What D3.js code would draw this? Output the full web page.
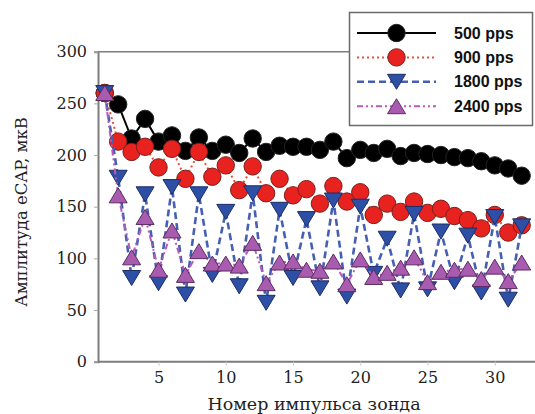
<!DOCTYPE html>
<html>
<head>
<meta charset="utf-8">
<script src="https://cdn.jsdelivr.net/npm/d3@7"></script>
<style>
  body { margin: 0; background: #fff; }
  svg { display: block; }
</style>
</head>
<body>
<svg id="chart"></svg>
<script>
// Pulse numbers 1..32
const pulses = d3.range(1, 33);

// eCAP amplitude, uV
const pps500 = [260, 249, 216, 235, 213, 219, 204, 217, 204, 210, 202, 216, 203, 209, 208, 208,
  205, 213, 197, 205, 202, 206, 199, 202, 201, 200, 198, 197, 194, 190, 187, 180];
const pps900 = [260, 213, 203, 208, 188, 206, 177, 203, 179, 190, 166, 189, 163, 177, 161, 167,
  153, 170, 155, 164, 142, 153, 145, 155, 144, 148, 141, 137, 129, 142, 125, 132];
const pps1800 = [260, 178, 81, 162, 76, 169, 65, 162, 84, 145, 73, 163, 57, 147, 81, 138,
  71, 156, 63, 150, 85, 119, 69, 143, 70, 126, 77, 122, 67, 140, 60, 131];
const pps2400 = [260, 161, 101, 140, 89, 127, 84, 107, 95, 95, 93, 115, 76, 96, 97, 89,
  88, 97, 75, 99, 82, 86, 91, 101, 77, 87, 89, 90, 80, 92, 78, 96];

const seriesNames = ["500 pps", "900 pps", "1800 pps", "2400 pps"];
const xTicks = [5, 10, 15, 20, 25, 30];
const yTicks = [0, 50, 100, 150, 200, 250, 300];

const width = 535, height = 414;
const svg = d3.select("#chart").attr("width", width).attr("height", height);

const x = d3.scaleLinear().domain([0.5, 32.5]).range([98, 528.4]);
const y = d3.scaleLinear().domain([0, 300]).range([361.7, 51.7]);

const axisColor = "#7d7d7d";
const serif = "'DejaVu Serif', serif";

// styles for each series
const styles = [
  { values: pps500, line: "#000", dash: null, lw: 2, marker: "circle", fill: "#000", stroke: "#222" },
  { values: pps900, line: "#e8503a", dash: "2,3", lw: 2, marker: "circle", fill: "#e8221f", stroke: "#7a1f1a" },
  { values: pps1800, line: "#4560b2", dash: "7,4", lw: 2.6, marker: "down", fill: "#2d4fa6", stroke: "#1d2d66" },
  { values: pps2400, line: "#b85ab9", dash: "6,3,2,3,2,3", lw: 2, marker: "up", fill: "#a95bb0", stroke: "#5b2c60" }
];

const triUp = "M0,-7.5L9,7.5L-9,7.5Z";
const triDown = "M-9,-7.5L9,-7.5L0,7.5Z";

function drawMarker(g, s, cx, cy) {
  if (s.marker === "circle") {
    g.append("circle").attr("cx", cx).attr("cy", cy).attr("r", 8.7)
      .attr("fill", s.fill).attr("stroke", s.stroke).attr("stroke-width", 1);
  } else {
    g.append("path").attr("d", s.marker === "up" ? triUp : triDown)
      .attr("transform", "translate(" + cx + "," + cy + ")")
      .attr("fill", s.fill).attr("stroke", s.stroke).attr("stroke-width", 1);
  }
}

// top border of plot area
svg.append("line")
  .attr("x1", x(0.5)).attr("x2", 350)
  .attr("y1", y(300)).attr("y2", y(300))
  .attr("stroke", axisColor).attr("stroke-width", 1.5);

// y axis
const yAxis = svg.append("g")
  .attr("transform", "translate(" + x(0.5) + ",0)")
  .call(d3.axisLeft(y).tickValues(yTicks).tickSize(4).tickPadding(7));
yAxis.select(".domain").attr("stroke", axisColor).attr("stroke-width", 2);
yAxis.selectAll(".tick line").attr("stroke", "#aaa");
yAxis.selectAll("text").attr("font-family", serif).attr("font-size", 16).attr("fill", "#222");

// x axis
const xAxis = svg.append("g")
  .attr("transform", "translate(0," + y(0) + ")")
  .call(d3.axisBottom(x).tickValues(xTicks).tickSize(4).tickPadding(6));
xAxis.select(".domain").attr("d", "M" + x(0.5) + ",0H" + width)
  .attr("stroke", axisColor).attr("stroke-width", 2);
xAxis.selectAll(".tick line").attr("stroke", "#ccc");
xAxis.selectAll("text").attr("font-family", serif).attr("font-size", 16).attr("fill", "#222");

// axis titles
svg.append("text")
  .attr("x", 314).attr("y", 410)
  .attr("text-anchor", "middle")
  .attr("font-family", serif).attr("font-size", 17.5).attr("fill", "#222")
  .text("Номер импульса зонда");

svg.append("text")
  .attr("transform", "translate(27,212) rotate(-90)")
  .attr("text-anchor", "middle")
  .attr("font-family", serif).attr("font-size", 16.5).attr("fill", "#222")
  .text("Амплитуда eCAP, мкВ");

// series lines + markers
const line = d3.line().x((d, i) => x(pulses[i])).y(d => y(d));

styles.forEach(s => {
  const g = svg.append("g");
  g.append("path")
    .datum(s.values)
    .attr("d", line)
    .attr("fill", "none")
    .attr("stroke", s.line)
    .attr("stroke-width", s.lw)
    .attr("stroke-dasharray", s.dash);
  s.values.forEach((v, i) => drawMarker(g, s, x(pulses[i]), y(v)));
});

// legend
const legend = svg.append("g");
legend.append("rect")
  .attr("x", 349.5).attr("y", 12.5).attr("width", 183).attr("height", 113)
  .attr("fill", "#fff").attr("stroke", "#6a6a6a").attr("stroke-width", 1.5);

seriesNames.forEach((name, i) => {
  const s = styles[i];
  const ry = 33 + i * 24.4;
  legend.append("line")
    .attr("x1", 357).attr("x2", 436).attr("y1", ry).attr("y2", ry)
    .attr("stroke", s.line).attr("stroke-width", s.lw)
    .attr("stroke-dasharray", s.dash);
  drawMarker(legend, s, 396.5, ry);
  legend.append("text")
    .attr("x", 454).attr("y", ry + 5.5)
    .attr("font-family", "'Liberation Sans', Arial, sans-serif")
    .attr("font-weight", "bold").attr("font-size", 16).attr("fill", "#111")
    .text(name);
});
</script>
</body>
</html>
